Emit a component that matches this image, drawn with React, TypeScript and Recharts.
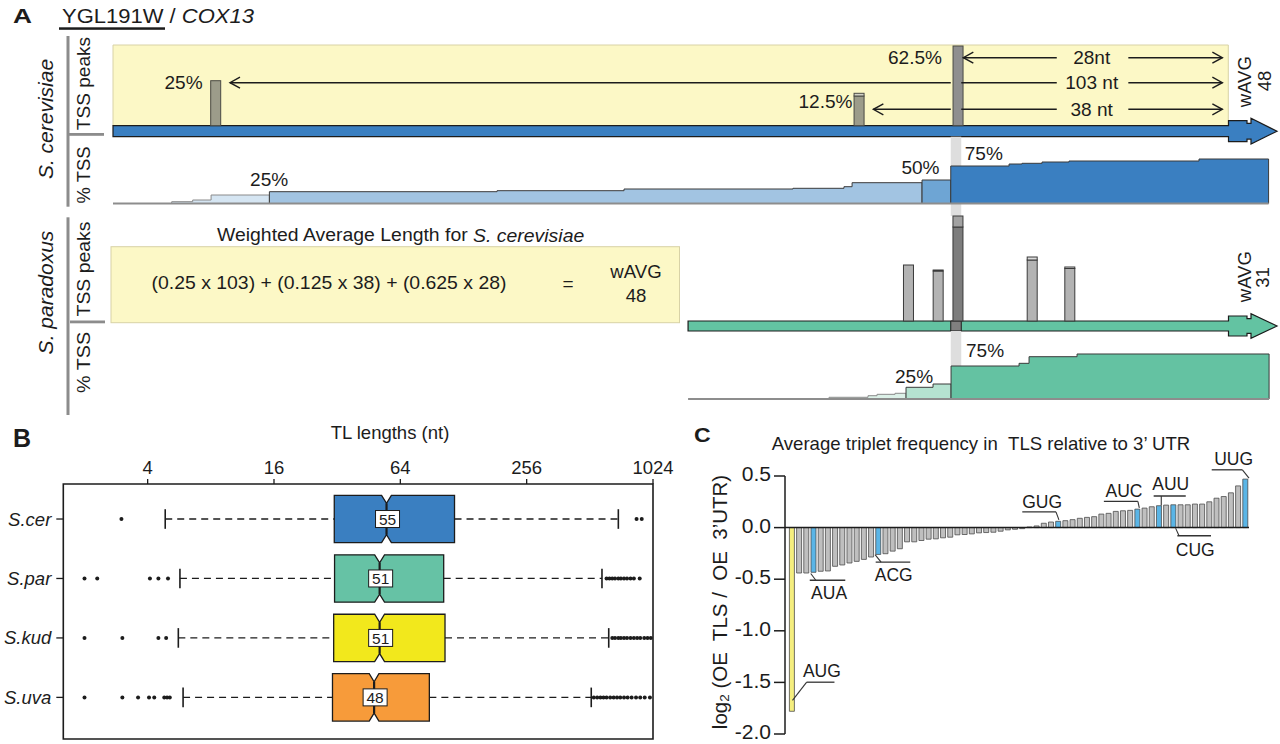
import React from 'react';
import {
  ComposedChart, BarChart, Bar, Area, Line, Scatter, XAxis, YAxis,
  ReferenceArea, ReferenceLine, ReferenceDot, Cell,
} from 'recharts';

const FONT = '"Liberation Sans", Arial, Helvetica, sans-serif';
const INK = '#1c1c1c';

// ================= Panel A data (positions in nt relative to the ATG) =================
const A_XMIN = -113.38;
const A_XMAX = 4.22;
const ATG_BOX_END = -0.7;

const cerPeakPos = [-103, -38, -28];
const cerPeakHeight = [45, 29.7, 79.7];
const cerPeakCap = [0, 2.7, 0];
const cerPeakShare = ['25%', '12.5%', '62.5%'];
const cerShareLabelX = [-106.25, -41.4, -32.35];
const cerShareLabelY = [42.7, 24, 68.2];

const parPeakPos = [-33, -30, -28, -20.5, -16.7];
const parPeakHeight = [56, 50, 94, 61, 52.5];
const parPeakCap = [0, 1, 11, 3, 1.5];

const tlLabel = ['28nt', '103 nt', '38 nt'];
const tlStart = [-27.47, -101.56, -36.56];
const tlEnd = -1.3;
const tlRowY = [68, 43, 16.4];
const tlLabelX = -14.5;
const tlGap = [-18.03, -10.8];
const mainPeakSpan = [-28.74, -27.68];

// cumulative % of TSS reads, step segments (start x, value); last x is the end
const cerTssX = [-113.38, -107.45, -105.33, -103.47, -97.58, -74.58, -61.75, -44.68, -39.53, -38.71, -31.64, -28.74, -22.85, -21.54, -19.52, -16.79, -3.66, 3.37];
const cerTssPct = [0, 3.6, 7, 17, 23.6, 25.6, 29, 30.4, 33.6, 41.6, 47, 75, 79, 80.4, 83, 85, 89];
const cerBandBreaks = [1, 4, 10, 11, 17];
const cerBandColors = ['#d5e5f2', '#a2c4e2', '#6ea5d4', '#3a7fc1'];
const cerTssLabelText = ['25%', '50%', '75%'];
const cerTssLabelX = [-97.6, -31.8, -25.4];
const cerTssLabelY = [47, 71, 100.4];

const parGeneStart = -55.28;
const parTssX = [-55.28, -41.04, -37.1, -36.19, -34.37, -33.26, -30.53, -28.71, -21.84, -20.83, -15.98, 3.42];
const parTssPct = [0, 3.8, 7.3, 10.4, 12.7, 26, 33.3, 73.3, 79.3, 94, 100];
const parBandBreaks = [1, 5, 7, 11];
const parBandColors = ['#dcf1e8', '#b5e3d1', '#64c2a2'];
const parTssLabelText = ['25%', '75%'];
const parTssLabelX = [-32.45, -25.28];
const parTssLabelY = [48.9, 106.7];

const wavgCer = 48;
const wavgPar = 31;

// ================= Panel B data =================
const species = ['S.cer', 'S.par', 'S.kud', 'S.uva'];
const boxQ1 = [31, 31.1, 30.8, 30.4];
const boxMed = [55, 51, 51, 48];
const boxQ3 = [116, 103, 104.5, 88];
const notchLo = [52.1, 48.3, 48.3, 45.5];
const notchHi = [58.0, 53.8, 53.8, 50.6];
const whiskLo = [4.85, 5.7, 5.6, 5.9];
const whiskHi = [700, 585, 630, 520];
const outLow = [
  [3.0],
  [2.0, 2.3, 4.1, 4.5, 5.0],
  [2.0, 3.03, 4.5, 4.9],
  [2.0, 3.03, 3.6, 4.06, 4.3, 4.8, 4.95, 5.1],
];
const outHigh = [
  [855, 905],
  [615, 635, 655, 675, 700, 720, 745, 770, 800, 830, 885],
  [655, 675, 700, 720, 745, 770, 800, 830, 860, 890, 930, 965, 1000],
  [535, 555, 575, 595, 615, 640, 665, 690, 715, 745, 775, 810, 850, 890, 935, 990],
];
const boxColors = ['#3a7fc1', '#66c2a5', '#f2e81c', '#f79b3a'];
const lenTicks = [4, 16, 64, 256, 1024];
const B_XMIN = 1.585;
const B_XMAX = 1024;

// ================= Panel C data =================
const codons = [
  'AUG', 't02', 't03', 'AUA', 't05', 't06', 't07', 't08', 't09', 't10', 't11', 't12', 'ACG', 't14', 't15', 't16',
  't17', 't18', 't19', 't20', 't21', 't22', 't23', 't24', 't25', 't26', 't27', 't28', 't29', 't30', 't31', 't32',
  't33', 't34', 't35', 't36', 't37', 'GUG', 't39', 't40', 't41', 't42', 't43', 't44', 't45', 't46', 't47', 't48',
  'AUC', 't50', 't51', 'AUU', 't53', 'CUG', 't55', 't56', 't57', 't58', 't59', 't60', 't61', 't62', 't63', 'UUG',
];
const tlsRatio = [
  -1.78, -0.44, -0.44, -0.433, -0.423, -0.42, -0.375, -0.362, -0.343, -0.327, -0.308, -0.285, -0.26, -0.253, -0.228, -0.205,
  -0.138, -0.138, -0.125, -0.112, -0.109, -0.099, -0.093, -0.07, -0.067, -0.061, -0.051, -0.048, -0.045, -0.035, -0.022, -0.016,
  -0.01, 0.006, 0.016, 0.042, 0.054, 0.061, 0.067, 0.077, 0.09, 0.099, 0.106, 0.131, 0.138, 0.157, 0.163, 0.167,
  0.179, 0.189, 0.202, 0.212, 0.218, 0.221, 0.221, 0.221, 0.228, 0.228, 0.25, 0.285, 0.301, 0.337, 0.404, 0.47,
];
const startCodon = 'AUG';
const nearCognate = ['AUA', 'ACG', 'GUG', 'AUC', 'AUU', 'CUG', 'UUG'];
const cTicks = [-2, -1.5, -1, -0.5, 0, 0.5];
// label placement: [text x, text y], underline [x1, x2, y], leader [[x,y],[x,y]] in (bar index, log2 ratio)
const cNotes = [
  { codon: 'AUG', text: [4.58, -1.387], line: [2.5, 6.3, -1.498], lead: [[0.56, -1.675], [2.5, -1.498]] },
  { codon: 'AUA', text: [5.56, -0.63], line: [2.92, 7.78, -0.51], lead: [[3.06, -0.445], [3.75, -0.51]] },
  { codon: 'ACG', text: [14.4, -0.46], line: [11.94, 16.67, -0.335], lead: [[11.85, -0.262], [12.68, -0.335]] },
  { codon: 'GUG', text: [34.7, 0.248], line: [31.99, 36.6, 0.152], lead: [[36.6, 0.152], [37.0, 0.075]] },
  { codon: 'AUC', text: [45.9, 0.354], line: [43.15, 47.8, 0.255], lead: [[47.8, 0.255], [48.0, 0.19]] },
  { codon: 'AUU', text: [52.3, 0.425], line: [49.96, 54.35, 0.306], lead: [[51, 0.306], [51, 0.215]] },
  { codon: 'CUG', text: [55.65, -0.216], line: [53.2, 57.8, -0.079], lead: [[52.96, -0.005], [53.43, -0.079]] },
  { codon: 'UUG', text: [60.9, 0.665], line: [57.9, 62.1, 0.56], lead: [[62.1, 0.56], [63, 0.48]] },
];

// ================= helpers =================
const T = ({ x, y, size = 16, sx = 1, rot = 0, anchor = 'middle', weight = 400, italic = false, fill = INK, db = 'central', children }: any) => (
  <text
    transform={`translate(${x},${y}) rotate(${rot}) scale(${sx},1)`}
    fontFamily={FONT}
    fontSize={size}
    textAnchor={anchor}
    dominantBaseline={db}
    fontWeight={weight}
    fontStyle={italic ? 'italic' : 'normal'}
    fill={fill}
  >
    {children}
  </text>
);

const textDot = (content: any, opts: any = {}) => (p: any) => (
  <T x={p.cx} y={p.cy} {...opts}>{content}</T>
);

const arrowLine = (head: string) => (p: any) => {
  const { x1, y1, x2, y2 } = p;
  const L = 10;
  const H = 5.5;
  return (
    <g>
      <line x1={x1} y1={y1} x2={x2} y2={y2} stroke={INK} strokeWidth={1.4} />
      {head === 'l' && (
        <polyline points={`${x1 + L},${y1 - H} ${x1},${y1} ${x1 + L},${y1 + H}`} fill="none" stroke={INK} strokeWidth={1.4} />
      )}
      {head === 'r' && (
        <polyline points={`${x2 - L},${y2 - H} ${x2},${y2} ${x2 - L},${y2 + H}`} fill="none" stroke={INK} strokeWidth={1.4} />
      )}
    </g>
  );
};

const geneShape = (fill: string) => (p: any) => {
  const { x, y, width, height } = p;
  const r = x + width;
  const cy = y + height / 2;
  const h = height / 2;
  const pts = [
    [x, cy - h], [r - 48.5, cy - h], [r - 48.5, cy - h - 5], [r - 30, cy - h - 5], [r - 30, cy - h - 2.4],
    [r - 26, cy - h - 2.4], [r - 26, cy - h - 7.4], [r, cy], [r - 26, cy + h + 7.4], [r - 26, cy + h + 2.4],
    [r - 30, cy + h + 2.4], [r - 30, cy + h + 5], [r - 48.5, cy + h + 5], [r - 48.5, cy + h], [x, cy + h],
  ];
  return <polygon points={pts.map((q) => q.join(',')).join(' ')} fill={fill} stroke={INK} strokeWidth={1.2} />;
};

// peak bar drawn 10px wide, centred on the position the library computed
const peakShape = (fillOf: (row: any) => string, stroke: string) => (p: any) => {
  const h = Math.abs(p.height || 0);
  if (!h || !isFinite(h)) return <g />;
  const top = Math.min(p.y, p.y + p.height);
  const cx = p.x + p.width / 2;
  return <rect x={cx - 5} y={top} width={10} height={h} fill={fillOf(p.payload)} stroke={stroke} strokeWidth={1} />;
};

function bandData(xs: number[], vs: number[], from: number, to: number) {
  const out = [{ x: xs[from], v: 0 }];
  for (let i = from; i < to; i++) out.push({ x: xs[i], v: vs[i] });
  out.push({ x: xs[to], v: vs[to - 1] });
  out.push({ x: xs[to], v: 0 });
  return out;
}

const peakRows = (() => {
  const m = new Map<number, any>();
  cerPeakPos.forEach((p, i) => {
    const r = m.get(p) || { x: p };
    r.sc = cerPeakHeight[i];
    r.scCap = cerPeakCap[i];
    m.set(p, r);
  });
  parPeakPos.forEach((p, i) => {
    const r = m.get(p) || { x: p };
    r.sp = parPeakHeight[i];
    r.spCap = parPeakCap[i];
    m.set(p, r);
  });
  return Array.from(m.values()).sort((a, b) => a.x - b.x);
})();

const MAIN_PEAK = -28;
const LBL = { size: 17.5, sx: 1.09 };

// ================= Panel A =================
function PanelA() {
  const cerBands = cerBandColors.map((c, k) => ({ c, d: bandData(cerTssX, cerTssPct, cerBandBreaks[k], cerBandBreaks[k + 1]) }));
  const parBands = parBandColors.map((c, k) => ({ c, d: bandData(parTssX, parTssPct, parBandBreaks[k], parBandBreaks[k + 1]) }));
  const cerBase = [{ x: cerTssX[0], v: 0 }, { x: cerTssX[cerTssX.length - 1], v: 0 }];
  const parBase = [{ x: parTssX[0], v: 0 }, { x: parTssX[parTssX.length - 1], v: 0 }];

  const arrows: any[] = [];
  tlLabel.forEach((lab, i) => {
    const y = tlRowY[i];
    const segs: any[] = [];
    if (tlStart[i] < mainPeakSpan[0]) {
      segs.push([tlStart[i], mainPeakSpan[0], 'l']);
      segs.push([mainPeakSpan[1], tlGap[0], 'n']);
    } else {
      segs.push([tlStart[i], tlGap[0], 'l']);
    }
    segs.push([tlGap[1], tlEnd, 'r']);
    segs.forEach(([a, b, h]: any, j: number) => {
      arrows.push(
        <ReferenceLine key={`tl${i}-${j}`} xAxisId="xa" yAxisId="pc" segment={[{ x: a, y }, { x: b, y }]} shape={arrowLine(h)} />
      );
    });
    arrows.push(
      <ReferenceDot key={`tlt${i}`} xAxisId="xa" yAxisId="pc" x={tlLabelX} y={y} r={1} shape={textDot(lab, LBL)} />
    );
  });

  return (
    <ComposedChart width={1280} height={420} data={peakRows} margin={{ top: 36, right: 3, bottom: 4, left: 113 }}>
      <XAxis xAxisId="xa" type="number" dataKey="x" domain={[A_XMIN, A_XMAX]} allowDataOverflow hide />
      <XAxis xAxisId="xb" type="number" dataKey="x" domain={[A_XMIN, A_XMAX]} allowDataOverflow hide />
      <YAxis yAxisId="pc" type="number" domain={[-290.3, 89.7]} allowDataOverflow hide />
      <YAxis yAxisId="tc" type="number" domain={[-425, 335]} allowDataOverflow hide />
      <YAxis yAxisId="pp" type="number" domain={[-95, 285]} allowDataOverflow hide />
      <YAxis yAxisId="tp" type="number" domain={[-37.78, 806.67]} allowDataOverflow hide />

      {/* S. cerevisiae */}
      <ReferenceArea xAxisId="xa" yAxisId="pc" x1={A_XMIN} x2={ATG_BOX_END} y1={0} y2={80.7} fill="#fcf8c6" fillOpacity={1} stroke="#d8d2a6" strokeWidth={1} />
      <ReferenceArea xAxisId="xa" yAxisId="pc" x1={A_XMIN} x2={A_XMAX} y1={-11} y2={0} shape={geneShape('#3a7fc1')} />
      <ReferenceArea xAxisId="xa" yAxisId="tc" x1={mainPeakSpan[0]} x2={mainPeakSpan[1]} y1={75} y2={133.6} fill="#dedede" fillOpacity={1} />
      {/* S. paradoxus */}
      <ReferenceArea xAxisId="xb" yAxisId="pp" x1={mainPeakSpan[0]} x2={mainPeakSpan[1]} y1={105} y2={117.5} fill="#dedede" fillOpacity={1} />
      <ReferenceArea xAxisId="xb" yAxisId="pp" x1={parGeneStart} x2={A_XMAX} y1={-10} y2={0} shape={geneShape('#63c3a2')} />
      <ReferenceArea xAxisId="xb" yAxisId="pp" x1={mainPeakSpan[0]} x2={mainPeakSpan[1]} y1={-10} y2={0} fill="#808080" fillOpacity={1} stroke={INK} strokeWidth={1} />
      <ReferenceArea xAxisId="xb" yAxisId="tp" x1={mainPeakSpan[0]} x2={mainPeakSpan[1]} y1={73.3} y2={151.1} fill="#dedede" fillOpacity={1} />

      {arrows}

      <Bar xAxisId="xa" yAxisId="pc" dataKey="sc" stackId="c" barSize={10} isAnimationActive={false}
        shape={peakShape((r) => (r.x === MAIN_PEAK ? '#8f8f8f' : '#9c9c8a'), '#4a4a44')} />
      <Bar xAxisId="xa" yAxisId="pc" dataKey="scCap" stackId="c" barSize={10} isAnimationActive={false}
        shape={peakShape(() => '#d2d2c6', '#4a4a44')} />
      <Bar xAxisId="xb" yAxisId="pp" dataKey="sp" stackId="p" barSize={10} isAnimationActive={false}
        shape={peakShape((r) => (r.x === MAIN_PEAK ? '#7d7d7d' : '#b3b3b3'), '#3a3a3a')} />
      <Bar xAxisId="xb" yAxisId="pp" dataKey="spCap" stackId="p" barSize={10} isAnimationActive={false}
        shape={peakShape((r) => (r.x === MAIN_PEAK ? '#a2a2a2' : '#dadada'), '#3a3a3a')} />

      {cerBands.map((b, k) => (
        <Area key={`cb${k}`} xAxisId="xa" yAxisId="tc" data={b.d} dataKey="v" type="stepAfter" fill={b.c} fillOpacity={1}
          stroke={k === 0 ? '#8a8a8a' : '#3b3b3b'} strokeWidth={1} isAnimationActive={false} dot={false} activeDot={false} />
      ))}
      <Line xAxisId="xa" yAxisId="tc" data={cerBase} dataKey="v" stroke="#8d8d8d" strokeWidth={2} dot={false} activeDot={false} isAnimationActive={false} />
      {parBands.map((b, k) => (
        <Area key={`pb${k}`} xAxisId="xb" yAxisId="tp" data={b.d} dataKey="v" type="stepAfter" fill={b.c} fillOpacity={1}
          stroke={k === 0 ? '#8a8a8a' : '#3b3b3b'} strokeWidth={1} isAnimationActive={false} dot={false} activeDot={false} />
      ))}
      <Line xAxisId="xb" yAxisId="tp" data={parBase} dataKey="v" stroke="#8d8d8d" strokeWidth={2} dot={false} activeDot={false} isAnimationActive={false} />

      {cerPeakShare.map((s, i) => (
        <ReferenceDot key={`cs${i}`} xAxisId="xa" yAxisId="pc" x={cerShareLabelX[i]} y={cerShareLabelY[i]} r={1} shape={textDot(s, LBL)} />
      ))}
      {cerTssLabelText.map((s, i) => (
        <ReferenceDot key={`ct${i}`} xAxisId="xa" yAxisId="tc" x={cerTssLabelX[i]} y={cerTssLabelY[i]} r={1} shape={textDot(s, LBL)} />
      ))}
      {parTssLabelText.map((s, i) => (
        <ReferenceDot key={`pt${i}`} xAxisId="xb" yAxisId="tp" x={parTssLabelX[i]} y={parTssLabelY[i]} r={1} shape={textDot(s, LBL)} />
      ))}
      <ReferenceDot xAxisId="xa" yAxisId="pc" x={0.94} y={44} r={1} shape={textDot('wAVG', { size: 18.5, rot: -90 })} />
      <ReferenceDot xAxisId="xa" yAxisId="pc" x={3.0} y={44.7} r={1} shape={textDot(String(wavgCer), { size: 18.5, rot: -90 })} />
      <ReferenceDot xAxisId="xb" yAxisId="pp" x={0.89} y={44.3} r={1} shape={textDot('wAVG', { size: 18.5, rot: -90 })} />
      <ReferenceDot xAxisId="xb" yAxisId="pp" x={2.71} y={43.5} r={1} shape={textDot(String(wavgPar), { size: 18.5, rot: -90 })} />
    </ComposedChart>
  );
}

// ================= Panel B =================
function PanelB() {
  const pts: any[] = [];
  species.forEach((s, i) => {
    outLow[i].forEach((v) => pts.push({ x: v, y: i + 1 }));
    outHigh[i].forEach((v) => pts.push({ x: v, y: i + 1 }));
  });
  const boxShape = (i: number) => (p: any) => {
    const { x, y, width, height } = p;
    const l = Math.log;
    const f = (v: number) => x + (width * (l(v) - l(boxQ1[i]))) / (l(boxQ3[i]) - l(boxQ1[i]));
    const m = f(boxMed[i]);
    const a = f(notchLo[i]);
    const b = f(notchHi[i]);
    const d = 8;
    const q = [
      [x, y], [a, y], [m, y + d], [b, y], [x + width, y], [x + width, y + height],
      [b, y + height], [m, y + height - d], [a, y + height], [x, y + height],
    ];
    return (
      <g>
        <polygon points={q.map((z) => z.join(',')).join(' ')} fill={boxColors[i]} stroke={INK} strokeWidth={1.3} />
        <line x1={m} y1={y + d} x2={m} y2={y + height - d} stroke={INK} strokeWidth={2.2} />
      </g>
    );
  };
  const medLabel = (i: number) => (p: any) => (
    <g>
      <rect x={p.cx - 11} y={p.cy - 8.5} width={24} height={17} fill="#fff" stroke={INK} strokeWidth={1} />
      <T x={p.cx + 1} y={p.cy + 0.5} size={15.5}>{boxMed[i]}</T>
    </g>
  );
  const SpeciesTick = (p: any) => (
    <T x={p.x} y={p.y} size={18.5} italic anchor="end">{species[p.payload.value - 1]}</T>
  );
  const LenTick = (p: any) => (
    <T x={p.x} y={p.y} size={18.5} db="alphabetic">{p.payload.value}</T>
  );
  const cap = 0.165;
  return (
    <ComposedChart width={680} height={324} margin={{ top: 34, right: 27, bottom: 5, left: 3.3 }}>
      <XAxis xAxisId="v" orientation="top" type="number" dataKey="x" scale="log" domain={[B_XMIN, B_XMAX]} ticks={lenTicks} interval={0}
        allowDataOverflow height={30} tickSize={5} tickMargin={5} axisLine={false} tickLine={{ stroke: INK, strokeWidth: 1.3 }} tick={LenTick} />
      <YAxis yAxisId="r" type="number" dataKey="y" domain={[0.411, 4.7]} reversed ticks={[1, 2, 3, 4]} interval={0} allowDataOverflow
        width={60} tickSize={7} tickMargin={5} axisLine={false} tickLine={{ stroke: INK, strokeWidth: 1.3 }} tick={SpeciesTick} />
      {species.map((s, i) => (
        <ReferenceArea key={`bx${i}`} xAxisId="v" yAxisId="r" x1={boxQ1[i]} x2={boxQ3[i]} y1={i + 1 - 0.398} y2={i + 1 + 0.398} shape={boxShape(i)} />
      ))}
      {species.map((s, i) => (
        <ReferenceLine key={`wl${i}`} xAxisId="v" yAxisId="r" segment={[{ x: whiskLo[i], y: i + 1 }, { x: boxQ1[i], y: i + 1 }]} stroke={INK} strokeWidth={1.3} strokeDasharray="7 5" />
      ))}
      {species.map((s, i) => (
        <ReferenceLine key={`wh${i}`} xAxisId="v" yAxisId="r" segment={[{ x: boxQ3[i], y: i + 1 }, { x: whiskHi[i], y: i + 1 }]} stroke={INK} strokeWidth={1.3} strokeDasharray="7 5" />
      ))}
      {species.map((s, i) => (
        <ReferenceLine key={`cl${i}`} xAxisId="v" yAxisId="r" segment={[{ x: whiskLo[i], y: i + 1 - cap }, { x: whiskLo[i], y: i + 1 + cap }]} stroke={INK} strokeWidth={1.6} />
      ))}
      {species.map((s, i) => (
        <ReferenceLine key={`ch${i}`} xAxisId="v" yAxisId="r" segment={[{ x: whiskHi[i], y: i + 1 - cap }, { x: whiskHi[i], y: i + 1 + cap }]} stroke={INK} strokeWidth={1.6} />
      ))}
      <Scatter xAxisId="v" yAxisId="r" data={pts} isAnimationActive={false} shape={(p: any) => <circle cx={p.cx} cy={p.cy} r={2} fill={INK} />} />
      {species.map((s, i) => (
        <ReferenceDot key={`md${i}`} xAxisId="v" yAxisId="r" x={boxMed[i]} y={i + 1} r={1} shape={medLabel(i)} />
      ))}
      <ReferenceArea xAxisId="v" yAxisId="r" x1={B_XMIN} x2={B_XMAX} y1={0.411} y2={4.7} fill="none" stroke={INK} strokeWidth={1.6} ifOverflow="visible" />
    </ComposedChart>
  );
}

// ================= Panel C =================
function PanelC() {
  const data = codons.map((c, i) => ({ name: c, v: tlsRatio[i] }));
  const colorOf = (c: string) => (c === startCodon ? '#f5ee7e' : nearCognate.includes(c) ? '#5ab5e6' : '#bfbfbf');
  const CTick = (p: any) => (
    <T x={p.x} y={p.y - 1.5} size={19.5} sx={1.08} anchor="end">{Number(p.payload.value).toFixed(1)}</T>
  );
  return (
    <BarChart width={590} height={324} data={data} margin={{ top: 56, right: 31, bottom: 10, left: 35 }} barSize={5}>
      <XAxis dataKey="name" hide padding={{ left: 3.4, right: 0 }} />
      <XAxis xAxisId="n" type="number" domain={[-0.5, 63.5]} allowDataOverflow hide padding={{ left: 3.4, right: 0 }} />
      <YAxis domain={[-2, 0.5]} ticks={cTicks} interval={0} allowDataOverflow width={60} tickSize={11} tickMargin={3}
        axisLine={{ stroke: INK, strokeWidth: 1.5 }} tickLine={{ stroke: INK, strokeWidth: 1.5 }} tick={CTick} />
      <Bar dataKey="v" stroke="#4d4d4d" strokeWidth={0.8} isAnimationActive={false}>
        {data.map((d, i) => <Cell key={i} fill={colorOf(d.name)} />)}
      </Bar>
      <ReferenceLine y={0} stroke={INK} strokeWidth={1.5} />
      {cNotes.map((n, i) => (
        <ReferenceLine key={`u${i}`} xAxisId="n" segment={[{ x: n.line[0], y: n.line[2] }, { x: n.line[1], y: n.line[2] }]} stroke="#333" strokeWidth={1.3} ifOverflow="visible" />
      ))}
      {cNotes.map((n, i) => (
        <ReferenceLine key={`l${i}`} xAxisId="n" segment={[{ x: n.lead[0][0], y: n.lead[0][1] }, { x: n.lead[1][0], y: n.lead[1][1] }]} stroke="#333" strokeWidth={1.1} ifOverflow="visible" />
      ))}
      {cNotes.map((n, i) => (
        <ReferenceDot key={`t${i}`} xAxisId="n" x={n.text[0]} y={n.text[1]} r={1} ifOverflow="visible" shape={textDot(n.codon, { size: 17.5 })} />
      ))}
    </BarChart>
  );
}

// ================= Static labels =================
function Overlay() {
  const gray = '#8c8c8c';
  return (
    <svg width={1280} height={744} style={{ position: 'absolute', left: 0, top: 0, pointerEvents: 'none' }}>
      {/* Panel A header */}
      <T x={13} y={23} size={21} weight={700} anchor="start" db="alphabetic" sx={1.25}>A</T>
      <text transform="translate(62,23) scale(1.1,1)" fontFamily={FONT} fontSize={20} fill={INK}>
        YGL191W<tspan> / </tspan><tspan fontStyle="italic">COX13</tspan>
      </text>
      <rect x={59} y={27.3} width={106} height={2.5} fill={INK} />

      {/* S. cerevisiae side labels */}
      <rect x={66.5} y={36} width={3} height={170.7} fill={gray} />
      <rect x={68} y={133} width={36} height={2.8} fill={gray} />
      <T x={45.5} y={119} size={21} italic rot={-90}>S. cerevisiae</T>
      <T x={84} y={83.5} size={17.5} sx={1.09} rot={-90}>TSS peaks</T>
      <T x={84} y={175} size={17.5} sx={1.05} rot={-90}>% TSS</T>

      {/* S. paradoxus side labels */}
      <rect x={66.5} y={217.3} width={3} height={197.7} fill={gray} />
      <rect x={70} y={320.5} width={35} height={2.8} fill={gray} />
      <T x={45.5} y={292.5} size={21} italic rot={-90}>S. paradoxus</T>
      <T x={84} y={269} size={17.5} sx={1.11} rot={-90}>TSS peaks</T>
      <T x={84} y={362.5} size={17.5} sx={1.13} rot={-90}>% TSS</T>

      {/* weighted average box */}
      <T x={400.6} y={235} size={18.5} sx={1.05}>
        Weighted Average Length for <tspan fontStyle="italic">S. cerevisiae</tspan>
      </T>
      <rect x={111} y={246.7} width={568.5} height={76} fill="#fcf8c6" stroke="#d8d2a6" strokeWidth={1} />
      <T x={329} y={283} size={17.5} sx={1.11}>(0.25 x 103) + (0.125 x 38) + (0.625 x 28)</T>
      <T x={568} y={283} size={19}>=</T>
      <T x={636} y={271.7} size={18.6}>wAVG</T>
      <T x={636} y={295} size={18.6}>{String(wavgCer)}</T>

      {/* Panel B */}
      <T x={13} y={447} size={25} weight={700} anchor="start" db="alphabetic">B</T>
      <T x={390} y={432} size={18.5}>TL lengths (nt)</T>

      {/* Panel C */}
      <T x={694} y={442} size={21} weight={700} anchor="start" db="alphabetic" sx={1.1}>C</T>
      <T x={981} y={443} size={18.6}>Average triplet frequency in{'\u00a0\u00a0'}TLS relative to 3’ UTR</T>
      <text transform="translate(719,602) rotate(-90)" fontFamily={FONT} fontSize={20.5} fill={INK} textAnchor="middle" dominantBaseline="central">
        log<tspan dy={5} fontSize={13.5}>2</tspan><tspan dy={-5}>{' (OE\u00a0 TLS /\u00a0 OE\u00a0 3’UTR)'}</tspan>
      </text>
    </svg>
  );
}

export default function App() {
  return (
    <div style={{ position: 'absolute', left: 0, top: 0, width: 1280, height: 744, background: '#fff', overflow: 'hidden', fontFamily: FONT }}>
      <div style={{ position: 'absolute', left: 0, top: 0 }}>
        <PanelA />
      </div>
      <div style={{ position: 'absolute', left: 0, top: 420 }}>
        <PanelB />
      </div>
      <div style={{ position: 'absolute', left: 690, top: 420 }}>
        <PanelC />
      </div>
      <Overlay />
    </div>
  );
}
